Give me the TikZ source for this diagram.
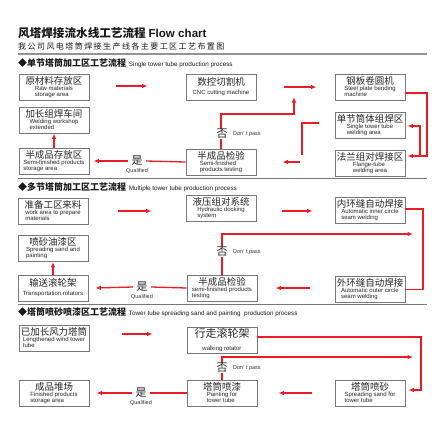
\documentclass[tikz,border=0pt]{standalone}
\usepackage{fontspec}
\setmainfont{Liberation Sans}
\newfontfamily\cjk{Noto Sans CJK SC}
\usetikzlibrary{arrows.meta,calc}
\definecolor{fred}{RGB}{236,28,36}
\definecolor{bgray}{RGB}{120,120,120}
\newcommand\bxt[2]{{\cjk\fontsize{9.5}{10}\selectfont #1}\\[-2.5pt]{\fontsize{6}{7}\selectfont\def\arraystretch{0.76}\begin{tabular}{@{}l@{}}#2\end{tabular}}}
\tikzset{
  box/.style={draw=bgray,line width=0.9pt,fill=white,minimum width=70pt,minimum height=26pt,inner sep=0.5pt,align=center,text=black!85},
  ln/.style={draw=fred,line width=1.3pt},
  arr/.style={ln,-{Latex[length=5.5pt,width=4.5pt]}},
  yn/.style={font=\cjk\fontsize{11}{11}\selectfont,fill=white,inner sep=0.5pt,text=black!85},
  sm/.style={font=\fontsize{5.5}{5}\selectfont,inner sep=0pt,text=black!80},
  hd/.style={anchor=west,inner sep=0pt,text=black!90},
  sep/.style={draw=bgray,line width=0.9pt}
}
\begin{document}
\begin{tikzpicture}[x=1pt,y=-1pt]
\useasboundingbox[fill=white] (0,0) rectangle (440,440);
% titles
\node[hd] (title) at (18,33) {{\cjk\bfseries\fontsize{11.6}{12}\selectfont 风塔焊接流水线工艺流程} {\bfseries\fontsize{11.6}{12}\selectfont Flow chart}};
\node[hd] (sub) at (18,46) {\cjk\fontsize{8}{9}\selectfont\addfontfeature{LetterSpace=18} 我公司风电塔筒焊接生产线各主要工区工艺布置图};
\coordinate (l0a) at (18,54); \coordinate (l0b) at (427,54);
\draw[draw=bgray!80,line width=1.6pt] (l0a) -- (l0b);
\node[hd] (h1) at (18,63) {{\cjk\bfseries\fontsize{9}{10}\selectfont ◆单节塔筒加工区工艺流程} {\fontsize{6.3}{7}\selectfont Single tower tube production process}};
\node[hd] (h2) at (18,187) {{\cjk\bfseries\fontsize{9}{10}\selectfont ◆多节塔筒加工区工艺流程} {\fontsize{6.3}{7}\selectfont Multiple tower tube production process}};
\node[hd] (h3) at (18,312) {{\cjk\bfseries\fontsize{9}{10}\selectfont ◆塔筒喷砂喷漆区工艺流程} {\fontsize{6.3}{7}\selectfont Tower tube spreading sand and painting\ \ production process}};
\coordinate (l1a) at (18,178); \coordinate (l1b) at (427,178);
\coordinate (l2a) at (18,304); \coordinate (l2b) at (427,304);
\draw[sep] (l1a) -- (l1b);
\draw[sep] (l2a) -- (l2b);

% ---------- section 1 ----------
\node[box] (raw) at (54,87) {\bxt{原材料存放区}{Raw materials\\storage area}};
\node[box] (cnc) at (221,87) {\bxt{数控切割机}{CNC cutting machine}};
\node[box] (steel) at (370,87) {\bxt{钢板卷圆机}{Steel plate bending\\machine}};
\node[box] (weld) at (54,120) {\bxt{加长组焊车间}{Welding workshop\\extended}};
\node[box] (single) at (370,125) {\bxt{单节筒体组焊区}{Single tower tube\\welding area}};
\node[box] (semist) at (54,161) {\bxt{半成品存放区}{Semi-finished products\\storage area}};
\node[box] (test1) at (221,162) {\bxt{半成品检验}{Semi-finished\\products testing}};
\node[box] (flange) at (370,163) {\bxt{法兰组对焊接区}{Flange-tube\\welding area}};

\draw[arr] ($(raw.east)+(27,-1)$) -- ($(cnc.west)+(-38,-1)$);
\draw[arr] ($(cnc.east)+(28,0)$) -- ($(steel.west)+(-18,0)$);
\coordinate (r1) at (427,93); \coordinate (r2) at (427,156);
\draw[arr] ($(steel.east)+(0,6)$) -- (r1) -- (r2) -- ($(flange.east)+(2,-7)$);
\coordinate (j1) at (420,156); \coordinate (j2) at (420,126);
\draw[arr] (j1) -- (j2) -- ($(single.east)+(2,1)$);
\coordinate (s1) at (302,123); \coordinate (s2) at (302,155); \coordinate (s3) at (300,162);
\draw[ln] ($(single.west)+(-16,-2)$) -- (s1) -- (s2);
\draw[arr] (s3) -- ($(test1.east)+(26,0)$);
\coordinate (u1) at (294,114); \coordinate (u2) at (294,97);
\draw[arr] (test1.north) |- (u1) -- (u2);
\node[yn] (no1) at (222,134) {否};
\node[sm,anchor=west] (dp1) at (233,134) {Don’ t pass};
\node[yn] (yes1) at (137,161) {是};
\node[sm] (q1) at (137,171) {Qualified};
\draw[ln] (test1.west) -- ($(yes1.east)+(3,0)$);
\draw[arr] ($(yes1.west)+(-3,0)$) -- ($(semist.east)+(4,0)$);
\draw[arr] (semist.north) -- (weld.south);

% ---------- section 2 ----------
\node[box] (prep) at (53,211) {\bxt{准备工区来料}{work area to prepare\\materials}};
\node[box] (hyd) at (221,208) {\bxt{液压组对系统}{Hydraulic docking\\system}};
\node[box] (inner) at (370,210.5) {\bxt{内环缝自动焊接}{Automatic inner circle\\seam welding}};
\node[box] (paint1) at (53,248.5) {\bxt{喷砂油漆区}{Spreading sand and\\painting}};
\node[box] (trans) at (53,288) {\bxt{输送滚轮架}{Transportation rotators}};
\node[box] (test2) at (222,288) {\bxt{半成品检验}{semi-finished products\\testing}};
\node[box] (outer) at (370,289.5) {\bxt{外环缝自动焊接}{Automatic outer circle\\seam welding}};

\draw[arr] ($(prep.east)+(30,0)$) -- ($(hyd.west)+(-34,3)$);
\draw[arr] ($(hyd.east)+(26,3)$) -- ($(inner.west)+(-22,0.5)$);
\coordinate (r3) at (423,289.5);
\draw[ln] ($(inner.east)+(0,-1.5)$) -| (r3) -- (outer.east);
\draw[arr] ($(outer.west)+(-25,-1.5)$) -- ($(test2.east)+(18,0)$);
\coordinate (u3) at (413,234);
\draw[arr] (test2.north) |- (u3);
\node[yn] (no2) at (222,252) {否};
\node[sm,anchor=west] (dp2) at (233,252) {Don’ t pass};
\node[yn] (yes2) at (142,287) {是};
\node[sm] (q2) at (142,297) {Qualified};
\draw[ln] (test2.west) -- ($(yes2.east)+(3,0)$);
\draw[arr] ($(yes2.west)+(-3,0)$) -- ($(trans.east)+(7,0)$);
\draw[arr] (trans.north) -- (paint1.south);

% ---------- section 3 ----------
\node[box] (len) at (54,338) {\bxt{已加长风力塔筒}{Lengthened wind tower\\tube}};
\node[box] (walk) at (222,340) {{\cjk\fontsize{11}{12}\selectfont 行走滚轮架}\\[1pt]{\fontsize{6}{7}\selectfont walking rotator}};
\node[box] (fin) at (54,393) {\bxt{成品堆场}{Finished products\\storage area}};
\node[box] (ptube) at (222,393) {\bxt{塔筒喷漆}{Painting for\\tower tube}};
\node[box] (sand) at (370,393) {\bxt{塔筒喷砂}{Spreading sand for\\tower tube}};

\draw[arr] ($(len.east)+(33,-4)$) -- ($(walk.west)+(-34,-6)$);
\coordinate (r4) at (421,390);
\draw[arr] ($(walk.east)+(0,-3)$) -| (r4) -- ($(sand.east)+(3,-3)$);
\coordinate (u4) at (413,357);
\draw[arr] (ptube.north) |- (u4);
\node[yn] (no3) at (222,368) {否};
\node[sm,anchor=west] (dp3) at (233,368) {Don’ t pass};
\draw[arr] ($(sand.west)+(-23,0)$) -- ($(ptube.east)+(21,0)$);
\node[yn] (yes3) at (141,393) {是};
\node[sm] (q3) at (141,403) {Qualified};
\draw[ln] (ptube.west) -- ($(yes3.east)+(3,0)$);
\draw[arr] ($(yes3.west)+(-3,0)$) -- ($(fin.east)+(7,0)$);
\end{tikzpicture}
\end{document}
